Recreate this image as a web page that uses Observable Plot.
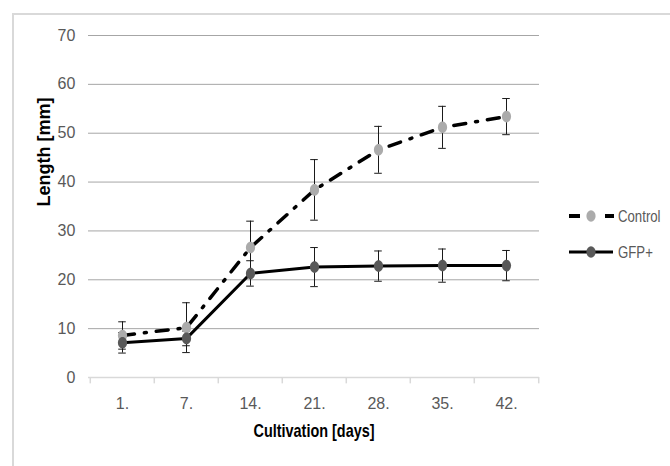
<!DOCTYPE html>
<html>
<head>
<meta charset="utf-8">
<script src="https://cdn.jsdelivr.net/npm/d3@7"></script>
<script src="https://cdn.jsdelivr.net/npm/@observablehq/plot@0.6"></script>
<style>
  html, body { margin: 0; padding: 0; background: #fff; }
  body { width: 670px; height: 466px; overflow: hidden; position: relative; }
  #frame { position: absolute; left: 12px; top: 13px; width: 720px; height: 520px; border: 2px solid #d9d9d9; box-sizing: border-box; }
  #chart { position: absolute; left: 0; top: 0; }
  #legend { position: absolute; left: 560px; top: 196px; }
  #legend text { font-family: "Liberation Sans", Arial, sans-serif; font-size: 16.5px; fill: #595959; }
</style>
</head>
<body>
<div id="frame"></div>
<div id="chart"></div>
<div id="legend"></div>
<script>
// ---- data ----
const days = ["1.", "7.", "14.", "21.", "28.", "35.", "42."];
const controlMean = [8.6, 10.2, 26.6, 38.4, 46.6, 51.2, 53.4];
const controlErr  = [2.8, 5.1, 5.4, 6.2, 4.8, 4.3, 3.7];
const gfpMean = [7.1, 8.0, 21.3, 22.6, 22.8, 22.9, 22.9];
const gfpErr  = [2.1, 1.5, 2.6, 4.0, 3.1, 3.4, 3.1];
const yTicks = [0, 10, 20, 30, 40, 50, 60, 70];
const seriesNames = ["Control", "GFP+"];
const xTitle = "Cultivation [days]";
const yTitle = "Length [mm]";

const W = 670, H = 466, mL = 88, mR = 131, mT = 35, mB = 89;
const bw = (W - mL - mR) / days.length;
const capW = 8;

const control = days.map((d, i) => ({day: d, mean: controlMean[i], err: controlErr[i]}));
const gfp = days.map((d, i) => ({day: d, mean: gfpMean[i], err: gfpErr[i]}));
const all = control.concat(gfp);

// ellipse marker (the reference markers are slightly taller than wide)
const ellipse = {
  draw(ctx) {
    const rx = 4.6, ry = 5.8, k = 0.5523;
    ctx.moveTo(rx, 0);
    ctx.bezierCurveTo(rx, ry * k, rx * k, ry, 0, ry);
    ctx.bezierCurveTo(-rx * k, ry, -rx, ry * k, -rx, 0);
    ctx.bezierCurveTo(-rx, -ry * k, -rx * k, -ry, 0, -ry);
    ctx.bezierCurveTo(rx * k, -ry, rx, -ry * k, rx, 0);
    ctx.closePath();
  }
};

const font = '"Liberation Sans", Arial, sans-serif';

const chart = Plot.plot({
  width: W,
  height: H,
  marginLeft: mL,
  marginRight: mR,
  marginTop: mT,
  marginBottom: mB,
  style: {background: "transparent", color: "#595959", fontFamily: font, fontSize: "16px"},
  x: {type: "band", domain: days, padding: 0, axis: null},
  y: {domain: [0, 70], axis: null},
  marks: [
    Plot.ruleY(yTicks.filter(v => v > 0), {stroke: "#a6a6a6", strokeWidth: 1}),
    Plot.ruleY([0], {stroke: "#d9d9d9", strokeWidth: 1.5}),
    // category boundary ticks
    Plot.ruleX(days, {x: d => d, dx: -bw / 2, y1: 0, y2: -1.3, stroke: "#d9d9d9", strokeWidth: 1.5}),
    Plot.ruleX([days[days.length - 1]], {x: d => d, dx: bw / 2, y1: 0, y2: -1.3, stroke: "#d9d9d9", strokeWidth: 1.5}),
    // y tick labels
    Plot.text(yTicks, {x: () => days[0], dx: -bw / 2 - 15, y: d => d, text: d => String(d), textAnchor: "end", fill: "#595959", fontSize: 16, fontFamily: font}),
    // x tick labels
    Plot.text(days, {x: d => d, y: 0, dy: 26, text: d => d, fill: "#595959", fontSize: 16, fontFamily: font}),
    // error bars
    Plot.ruleX(all, {x: "day", y1: d => d.mean - d.err, y2: d => d.mean + d.err, stroke: "#1a1a1a", strokeWidth: 1}),
    Plot.tickY(all, {x: "day", y: d => d.mean + d.err, stroke: "#1a1a1a", strokeWidth: 1, insetLeft: (bw - capW) / 2, insetRight: (bw - capW) / 2}),
    Plot.tickY(all, {x: "day", y: d => d.mean - d.err, stroke: "#1a1a1a", strokeWidth: 1, insetLeft: (bw - capW) / 2, insetRight: (bw - capW) / 2}),
    // lines
    Plot.line(control, {x: "day", y: "mean", stroke: "black", strokeWidth: 3.5, strokeDasharray: "12,10,2,10"}),
    Plot.line(gfp, {x: "day", y: "mean", stroke: "black", strokeWidth: 3}),
    // markers
    Plot.dot(control, {x: "day", y: "mean", symbol: ellipse, fill: "#ababab", stroke: "none"}),
    Plot.dot(gfp, {x: "day", y: "mean", symbol: ellipse, fill: "#595959", stroke: "none"}),
    // axis titles
    Plot.text([xTitle], {frameAnchor: "bottom", dy: 59, text: d => d, fontWeight: "bold", fontSize: 19, fill: "black", fontFamily: font}),
    Plot.text([yTitle], {frameAnchor: "left", dx: -45, rotate: -90, text: d => d, fontWeight: "bold", fontSize: 19, fill: "black", fontFamily: font})
  ]
});
document.getElementById("chart").appendChild(chart);

// condense the titles to the reference's narrow face
const fitText = (txt, len) => d3.select(chart).selectAll("text")
  .filter(function() { return this.textContent === txt; })
  .attr("textLength", len).attr("lengthAdjust", "spacingAndGlyphs");
fitText(xTitle, 121);
fitText(yTitle, 109);

// legend
const lg = d3.select("#legend").append("svg").attr("width", 110).attr("height", 70);
const rows = [
  {name: seriesNames[0], y: 20, fill: "#ababab", dashed: true},
  {name: seriesNames[1], y: 56, fill: "#595959", dashed: false}
];
rows.forEach(r => {
  if (r.dashed) {
    lg.append("line").attr("x1", 9).attr("x2", 20).attr("y1", r.y).attr("y2", r.y).attr("stroke", "black").attr("stroke-width", 4);
    lg.append("line").attr("x1", 45).attr("x2", 54).attr("y1", r.y).attr("y2", r.y).attr("stroke", "black").attr("stroke-width", 4);
  } else {
    lg.append("line").attr("x1", 9).attr("x2", 53).attr("y1", r.y).attr("y2", r.y).attr("stroke", "black").attr("stroke-width", 3);
  }
  lg.append("ellipse").attr("cx", 31).attr("cy", r.y).attr("rx", 4.6).attr("ry", 5.8).attr("fill", r.fill);
  lg.append("text").attr("transform", `translate(58,${r.y}) scale(0.8,1)`).attr("dy", "0.35em").text(r.name);
});
</script>
</body>
</html>
